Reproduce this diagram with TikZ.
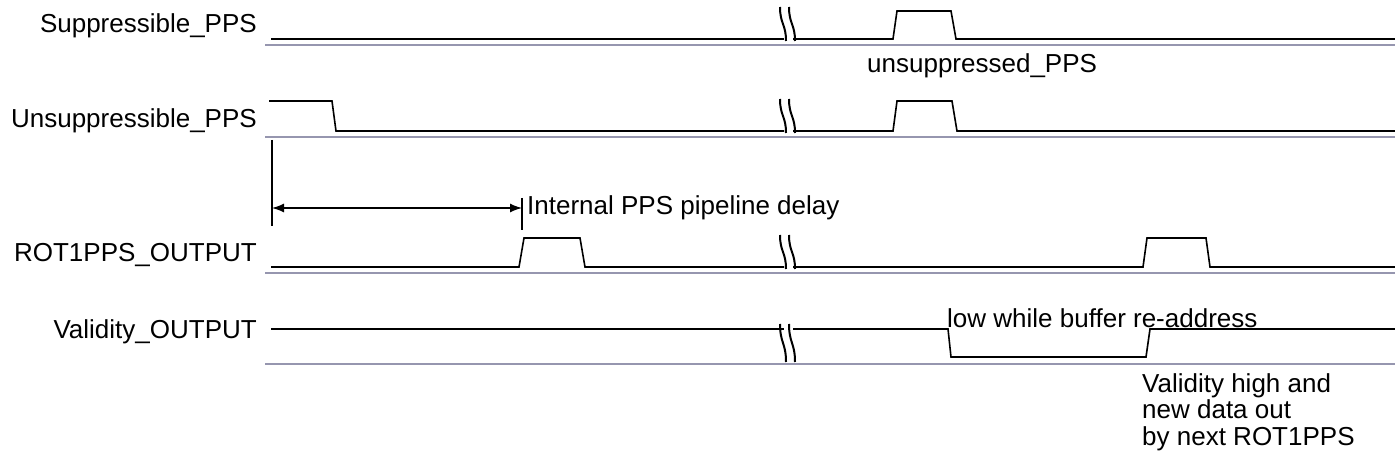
\documentclass[tikz,border=0pt]{standalone}
\usepackage{fontspec}
\setmainfont{Liberation Sans}
\usetikzlibrary{arrows.meta}
\definecolor{gridc}{RGB}{150,150,175}
\begin{document}
\begin{tikzpicture}[x=1pt,y=-1pt,
  sig/.style={line width=1.6pt, line join=miter},
  baseline line/.style={draw=gridc, line width=2.2pt},
  lbl/.style={font=\fontsize{26}{26.5}\selectfont, inner sep=0pt},
  brk/.style={line width=2pt},
  brkpic/.pic={
    \draw[brk] (-9,-\brkh) .. controls (-9,0) and (-3,0) .. (-3,\brkh);
    \draw[brk] (0,-\brkh) .. controls (0,0) and (6,0) .. (6,\brkh);
  },
  tick/.style={line width=1.6pt},
  dimarrow/.style={line width=1.3pt, {Latex[length=12pt,width=9pt]}-{Latex[length=12pt,width=9pt]}}
]
\useasboundingbox (0,0) rectangle (1395,470);

% signal labels
\node[lbl, anchor=base east] (l1) at (257,33) {Suppressible\_PPS};
\node[lbl, anchor=base east] (l2) at (257,128) {Unsuppressible\_PPS};
\node[lbl, anchor=base east] (l3) at (257,262) {ROT1PPS\_OUTPUT};
\node[lbl, anchor=base east] (l4) at (257,338) {Validity\_OUTPUT};

% base (gray) lines
\draw[baseline line] (265,45) -- (1395,45);
\draw[baseline line] (265,137) -- (1395,137);
\draw[baseline line] (265,273) -- (1395,273);
\draw[baseline line] (265,364) -- (1395,364);

% Suppressible_PPS
\draw[sig] (271,39) -- (784,39);
\draw[sig] (793,39) -- (893,39) -- (897,11) -- (951,11) -- (956,39) -- (1395,39);
% Unsuppressible_PPS
\draw[sig] (269,101) -- (332,101) -- (336,131) -- (784,131);
\draw[sig] (793,131) -- (893,131) -- (897,101) -- (952,101) -- (957,131) -- (1395,131);
% ROT1PPS_OUTPUT
\draw[sig] (271,267) -- (519,267) -- (524,238) -- (580,238) -- (585,267) -- (784,267);
\draw[sig] (793,267) -- (1143,267) -- (1147,238) -- (1206,238) -- (1210,267) -- (1395,267);
% Validity_OUTPUT
\draw[sig] (271,329) -- (784,329);
\draw[sig] (793,329) -- (948,329) -- (951,357) -- (1146,357) -- (1150,329) -- (1395,329);

% break symbols
\def\brkh{17}
\pic at (789,24) {brkpic};
\pic at (789,116) {brkpic};
\pic at (789,252) {brkpic};
\def\brkh{19}
\pic at (789,343) {brkpic};

% delay dimension
\coordinate (dL) at (272,208);
\coordinate (dR) at (522,208);
\draw[tick] (272,140) -- (272,226);
\draw[tick] (522,198) -- (522,230);
\draw[dimarrow] (dL) -- (dR);

% annotations
\node[lbl, anchor=base west] (t1) at (867,73) {unsuppressed\_PPS};
\node[lbl, anchor=base west] (t2) at (527,215) {Internal PPS pipeline delay};
\node[lbl, anchor=base west] (t3) at (947,327) {low while buffer re-address};
\node[lbl, anchor=north west, align=left] (t4) at (1142,373) {Validity high and\\new data out\\by next ROT1PPS};
\end{tikzpicture}
\end{document}
